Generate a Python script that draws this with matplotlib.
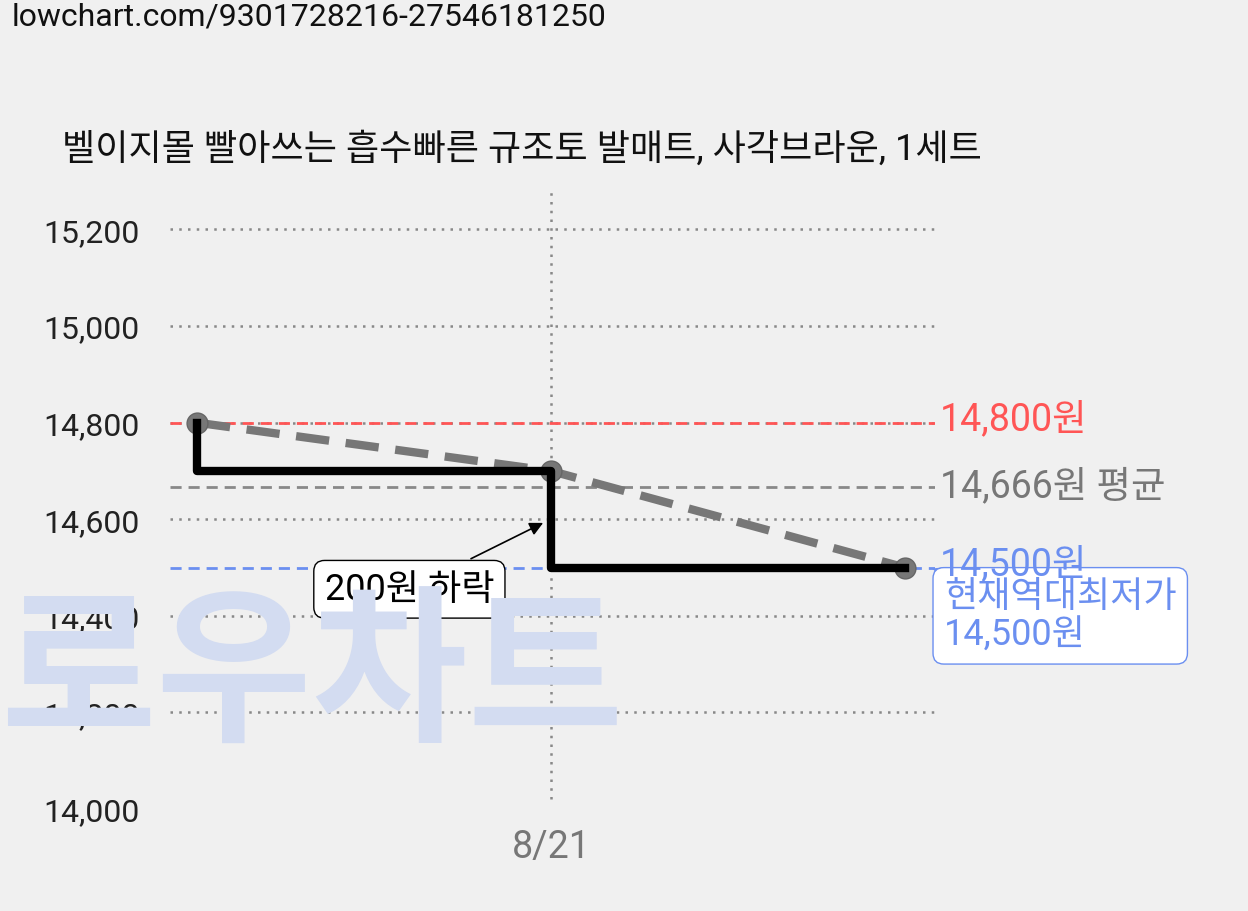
import matplotlib
matplotlib.use("Agg")
import matplotlib.pyplot as plt

plt.rcParams['font.family'] = ['Roboto', 'Noto Sans CJK KR', 'DejaVu Sans']

x_pos = [0, 1, 2]
prices = [14800, 14700, 14500]
x_labels = {1: "8/21"}
yticks = [14000, 14200, 14400, 14600, 14800, 15000, 15200]
max_p, avg_p, min_p = 14800, 14666, 14500
title = "벨이지몰 빨아쓰는 흡수빠른 규조토 발매트, 사각브라운, 1세트"
url = "lowchart.com/9301728216-27546181250"

W, H = 1248, 912
fig = plt.figure(figsize=(W/100, H/100), dpi=100, facecolor='#f0f0f0')
ax = fig.add_axes([170/W, 1-810/H, (935-170)/W, (810-188)/H])
ax.set_facecolor('none')
ax.set_xlim(-0.0763, 2.085)
ax.set_ylim(14000, 15288)
for s in ax.spines.values():
    s.set_visible(False)

fig.text(12/W, 1-17/H, url, fontsize=23, va='center', ha='left', color='#111')
fig.text(62/W, 1-150/H, title, fontsize=26, va='center', ha='left', color='#111')

# watermark
fig.text(0/W, 1-682/H, "로우차트", fontsize=122, fontweight='black', color='#d3dcf1',
         va='center', ha='left', zorder=0)

for t in yticks[1:]:
    ax.axhline(t, color='#888', ls=(0, (1, 2.5)), lw=1.8, zorder=1)
ax.axvline(1, color='#888', ls=(0, (1, 2.5)), lw=1.8, ymin=0.016, ymax=1, zorder=1)

ax.axhline(max_p, color='#f55', ls=(0, (4, 2.5)), lw=2, zorder=2)
ax.axhline(avg_p, color='#888', ls=(0, (4, 2.5)), lw=2, zorder=2)
ax.axhline(min_p, color='#6b8ff0', ls=(0, (4, 2.5)), lw=2, zorder=2)

ax.plot(x_pos, prices, color='#777', lw=6, ls=(0, (4, 2)), marker='o', ms=15,
        mfc='#777', mec='#666', zorder=3)
ax.plot(x_pos, prices, drawstyle='steps-pre', color='black', lw=6, zorder=4)

tx = 940/W
fig.text(tx, 1-420/H, f"{max_p:,}원", color='#f55', fontsize=27, va='center')
fig.text(tx, 1-487/H, f"{avg_p:,}원 평균", color='#777', fontsize=27, va='center')
fig.text(tx, 1-565/H, f"{min_p:,}원", color='#6b8ff0', fontsize=27, va='center')

ax.set_yticks(yticks)
ax.set_yticklabels([f"{v:,}" for v in yticks], fontsize=23, color='#222')
ax.set_xticks(list(x_labels.keys()))
ax.set_xticklabels(list(x_labels.values()), fontsize=27, color='#777')
ax.tick_params(length=0, pad=14)
ax.tick_params(axis='y', pad=22)

ax.annotate("200원 하락", xy=(0.985, 14595), xytext=(0.6, 14455),
            fontsize=26, ha='center', va='center', color='black',
            bbox=dict(boxstyle='round,pad=0.3', fc='white', ec='black', lw=1),
            arrowprops=dict(arrowstyle='-|>', color='black', lw=1.2, mutation_scale=20),
            zorder=6)
ax.annotate(f"현재역대최저가\n{min_p:,}원", xy=(2.07, 14500), xytext=(2.11, 14400),
            fontsize=26, ha='left', va='center', color='#6b8ff0', linespacing=1.1,
            bbox=dict(boxstyle='round,pad=0.3', fc='white', ec='#6b8ff0', lw=1),
            arrowprops=dict(arrowstyle='-|>', color='#6b8ff0', lw=1.2, mutation_scale=20),
            annotation_clip=False, zorder=6)

fig.savefig("out.png", dpi=100, facecolor=fig.get_facecolor())
